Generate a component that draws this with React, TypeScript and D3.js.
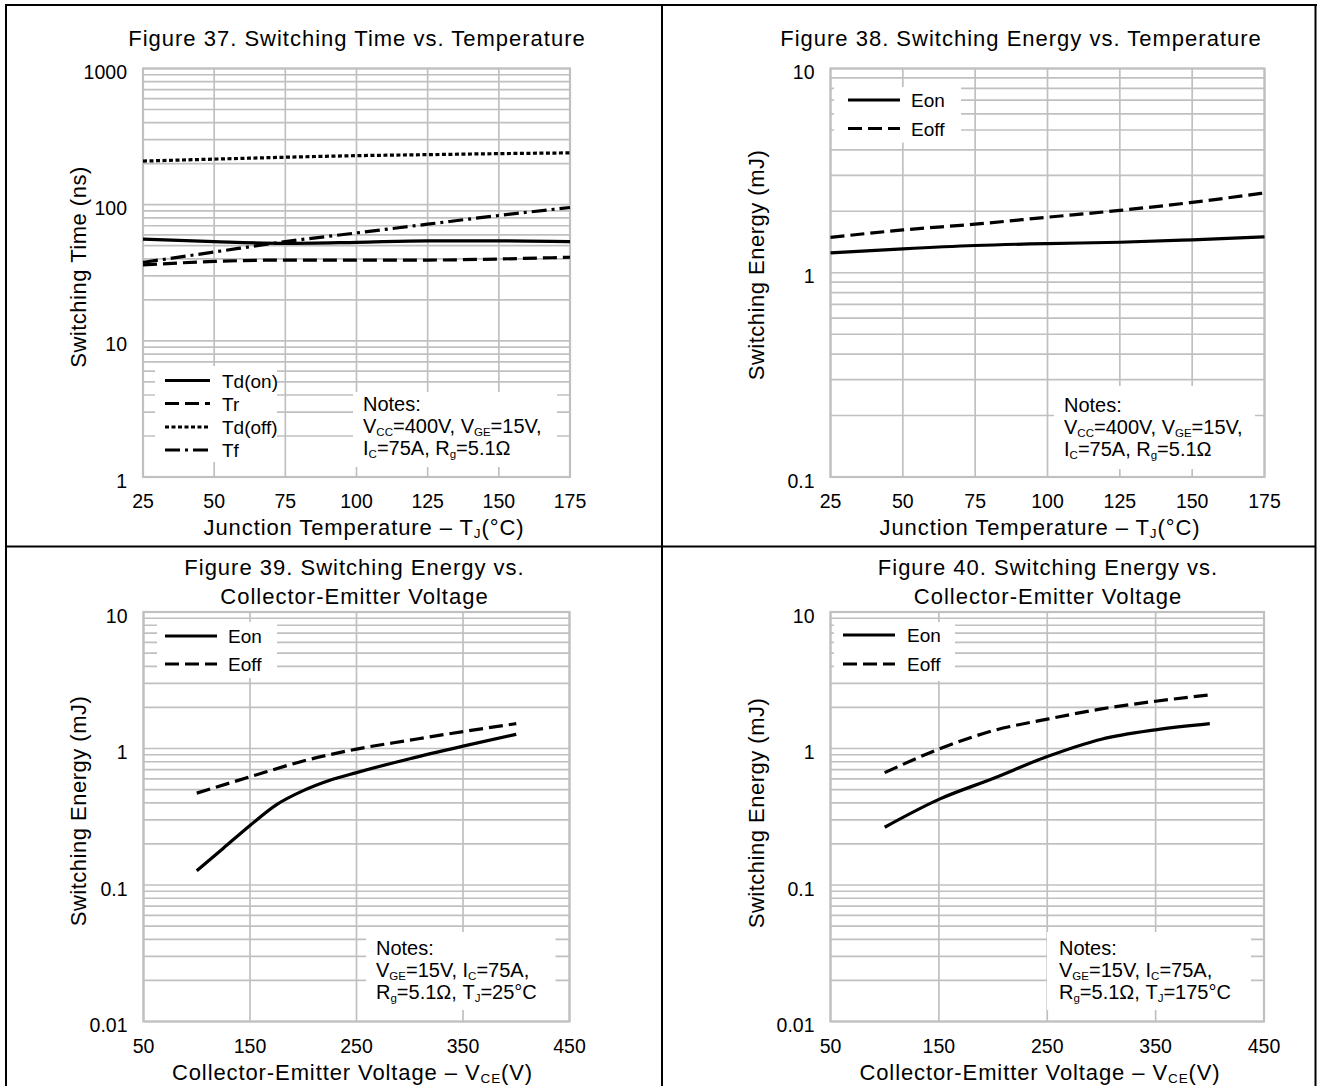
import React from 'react';
import * as d3 from 'd3';

// ---------- DATA ----------
const tempC = [25, 50, 75, 100, 125, 150, 175];
const fig37TdOn = [55.9, 53.5, 52.0, 52.9, 54.2, 54.2, 53.5];
const fig37Tr = [36.1, 38.3, 39.2, 39.2, 39.2, 39.9, 41.1];
const fig37TdOff = [209, 216, 223, 229, 233, 237, 240];
const fig37Tf = [37.7, 44.9, 53.5, 62.0, 71.9, 83.3, 95.3];

const fig38Eon = [1.25, 1.31, 1.36, 1.39, 1.41, 1.45, 1.5];
const fig38Eoff = [1.49, 1.62, 1.73, 1.87, 2.02, 2.21, 2.46];

const vceV = [100, 150, 200, 250, 300, 350, 400];
const vce39On = [100, 125, 150, 175, 200, 225, 250, 300, 350, 400];
const fig39Eon = [0.127, 0.186, 0.273, 0.388, 0.491, 0.585, 0.666, 0.842, 1.04, 1.27];
const fig39Eoff = [0.471, 0.62, 0.81, 0.99, 1.15, 1.33, 1.52];

const fig40Eon = [0.265, 0.424, 0.603, 0.873, 1.17, 1.37, 1.52];
const fig40Eoff = [0.665, 0.99, 1.35, 1.64, 1.95, 2.22, 2.47];

const tempTicks = [25, 50, 75, 100, 125, 150, 175];
const vceTicks = [50, 150, 250, 350, 450];
const timeTicks = [1, 10, 100, 1000];
const energyTicksT = [0.1, 1, 10];
const energyTicksV = [0.01, 0.1, 1, 10];

const legend37 = ['Td(on)', 'Tr', 'Td(off)', 'Tf'];
const legendE = ['Eon', 'Eoff'];

// ---------- STYLE ----------
const FONT = '"Liberation Sans", Arial, sans-serif';
const GRID = '#c0c0c0';
const DASH: Record<string, string | undefined> = {
  solid: undefined,
  dash: '14 6',
  dot: '4 2.5',
  dashdot: '15 5 3 5',
};

type Seg = { t: string; sub?: boolean };

function Rich({ x, y, segs, size, subSize, anchor = 'start', ls = 0, transform }: any) {
  return (
    <text x={x} y={y} fontSize={size} textAnchor={anchor} letterSpacing={ls} transform={transform} fill="#000">
      {segs.map((s: Seg, i: number) =>
        s.sub ? (
          <tspan key={i} fontSize={subSize} dy={3}>{s.t}</tspan>
        ) : (
          <tspan key={i} dy={i > 0 && segs[i - 1].sub ? -3 : 0}>{s.t}</tspan>
        )
      )}
    </text>
  );
}

interface SeriesCfg { xs: number[]; ys: number[]; dash: string; }
interface PanelCfg {
  plot: { l: number; r: number; t: number; b: number };
  xDomain: [number, number];
  xTicks: number[];
  yTicks: number[];
  series: SeriesCfg[];
  legend: { labels: string[]; dashes: string[]; box: [number, number, number, number]; x0: number; x1: number; tx: number; rows: number[] };
  notes: { box: [number, number, number, number]; x: number; ys: number[]; lines: Seg[][] };
  title: { lines: string[]; cx: number; ys: number[] };
  xTitle: { segs: Seg[]; cx: number };
  yTitle: { text: string; cx: number; cy: number };
}

function Panel({ cfg }: { cfg: PanelCfg }) {
  const { plot } = cfg;
  const x = d3.scaleLinear().domain(cfg.xDomain).range([plot.l, plot.r]);
  const yMin = cfg.yTicks[0];
  const yMax = cfg.yTicks[cfg.yTicks.length - 1];
  const y = d3.scaleLog().domain([yMin, yMax]).range([plot.b, plot.t]);
  const minors: number[] = [];
  cfg.yTicks.slice(0, -1).forEach((d) => {
    for (let k = 2; k <= 9; k++) minors.push(d * k);
  });
  const line = d3
    .line<[number, number]>()
    .x((d) => x(d[0]))
    .y((d) => y(d[1]))
    .curve(d3.curveMonotoneX);
  const lb = cfg.legend.box;
  const nb = cfg.notes.box;
  return (
    <g fontFamily={FONT}>
      {/* grid */}
      {minors.concat(cfg.yTicks).map((v, i) => (
        <line key={'h' + i} x1={plot.l} x2={plot.r} y1={y(v)} y2={y(v)} stroke={GRID} strokeWidth={1.7} />
      ))}
      {cfg.xTicks.map((v, i) => (
        <line key={'v' + i} x1={x(v)} x2={x(v)} y1={plot.t} y2={plot.b} stroke={GRID} strokeWidth={1.7} />
      ))}
      <rect x={plot.l} y={plot.t} width={plot.r - plot.l} height={plot.b - plot.t} fill="none" stroke={GRID} strokeWidth={2.2} />
      {/* legend + notes backgrounds */}
      <rect x={lb[0]} y={lb[1]} width={lb[2] - lb[0]} height={lb[3] - lb[1]} fill="#fff" />
      <rect x={nb[0]} y={nb[1]} width={nb[2] - nb[0]} height={nb[3] - nb[1]} fill="#fff" />
      {/* series */}
      {cfg.series.map((s, i) => (
        <path
          key={'s' + i}
          d={line(s.xs.map((xv, j) => [xv, s.ys[j]] as [number, number])) || ''}
          fill="none"
          stroke="#000"
          strokeWidth={3.2}
          strokeDasharray={DASH[s.dash]}
        />
      ))}
      {/* legend */}
      {cfg.legend.labels.map((lab, i) => (
        <g key={'l' + i}>
          <line x1={cfg.legend.x0} x2={cfg.legend.x1} y1={cfg.legend.rows[i]} y2={cfg.legend.rows[i]} stroke="#000" strokeWidth={3.2} strokeDasharray={DASH[cfg.legend.dashes[i]]} />
          <text x={cfg.legend.tx} y={cfg.legend.rows[i] + 7} fontSize={19} fill="#000">{lab}</text>
        </g>
      ))}
      {/* notes */}
      {cfg.notes.lines.map((segs, i) => (
        <Rich key={'n' + i} x={cfg.notes.x} y={cfg.notes.ys[i]} segs={segs} size={20} subSize={11.5} />
      ))}
      {/* y tick labels */}
      {cfg.yTicks.map((v, i) => (
        <text key={'yl' + i} x={plot.l - 16} y={y(v) + 10.5} fontSize={19.5} textAnchor="end" fill="#000">{String(v)}</text>
      ))}
      {/* x tick labels */}
      {cfg.xTicks.map((v, i) => (
        <text key={'xl' + i} x={x(v)} y={plot.b + 31} fontSize={19.5} textAnchor="middle" fill="#000">{String(v)}</text>
      ))}
      {/* titles */}
      {cfg.title.lines.map((t, i) => (
        <text key={'t' + i} x={cfg.title.cx} y={cfg.title.ys[i]} fontSize={22} textAnchor="middle" letterSpacing={1} fill="#000">{t}</text>
      ))}
      <Rich x={cfg.xTitle.cx} y={plot.b + 58} segs={cfg.xTitle.segs} size={22} subSize={13.5} anchor="middle" ls={0.9} />
      <text
        transform={`translate(${cfg.yTitle.cx},${cfg.yTitle.cy}) rotate(-90)`}
        fontSize={22}
        textAnchor="middle"
        dy="0.35em"
        letterSpacing={0.5}
        fill="#000"
      >
        {cfg.yTitle.text}
      </text>
    </g>
  );
}

const notesT: Seg[][] = [
  [{ t: 'Notes:' }],
  [{ t: 'V' }, { t: 'CC', sub: true }, { t: '=400V, V' }, { t: 'GE', sub: true }, { t: '=15V,' }],
  [{ t: 'I' }, { t: 'C', sub: true }, { t: '=75A, R' }, { t: 'g', sub: true }, { t: '=5.1Ω' }],
];
const notesV = (tj: string): Seg[][] => [
  [{ t: 'Notes:' }],
  [{ t: 'V' }, { t: 'GE', sub: true }, { t: '=15V, I' }, { t: 'C', sub: true }, { t: '=75A,' }],
  [{ t: 'R' }, { t: 'g', sub: true }, { t: '=5.1Ω, T' }, { t: 'J', sub: true }, { t: '=' + tj }],
];
const xTitleT: Seg[] = [{ t: 'Junction Temperature  – T' }, { t: 'J', sub: true }, { t: '(°C)' }];
const xTitleV: Seg[] = [{ t: 'Collector-Emitter Voltage  – V' }, { t: 'CE', sub: true }, { t: '(V)' }];

export default function App() {
  const p1: PanelCfg = {
    plot: { l: 143, r: 570, t: 68.5, b: 477 },
    xDomain: [25, 175],
    xTicks: tempTicks,
    yTicks: timeTicks,
    series: [
      { xs: tempC, ys: fig37TdOff, dash: 'dot' },
      { xs: tempC, ys: fig37Tf, dash: 'dashdot' },
      { xs: tempC, ys: fig37TdOn, dash: 'solid' },
      { xs: tempC, ys: fig37Tr, dash: 'dash' },
    ],
    legend: { labels: legend37, dashes: ['solid', 'dash', 'dot', 'dashdot'], box: [155, 366, 277, 462], x0: 165, x1: 210, tx: 222, rows: [380.5, 403.5, 427, 450] },
    notes: { box: [353, 392, 557, 467], x: 363, ys: [411, 433, 455], lines: notesT },
    title: { lines: ['Figure 37. Switching Time vs. Temperature'], cx: 357, ys: [46] },
    xTitle: { segs: xTitleT, cx: 364 },
    yTitle: { text: 'Switching Time  (ns)', cx: 78, cy: 267 },
  };
  const p2: PanelCfg = {
    plot: { l: 830.5, r: 1264.5, t: 68.5, b: 477 },
    xDomain: [25, 175],
    xTicks: tempTicks,
    yTicks: energyTicksT,
    series: [
      { xs: tempC, ys: fig38Eoff, dash: 'dash' },
      { xs: tempC, ys: fig38Eon, dash: 'solid' },
    ],
    legend: { labels: legendE, dashes: ['solid', 'dash'], box: [834, 87, 961, 142.5], x0: 848, x1: 900, tx: 911, rows: [100, 128.5] },
    notes: { box: [1054, 386, 1255, 469], x: 1064, ys: [412, 434, 456], lines: notesT },
    title: { lines: ['Figure 38. Switching Energy vs. Temperature'], cx: 1021, ys: [46] },
    xTitle: { segs: xTitleT, cx: 1040 },
    yTitle: { text: 'Switching Energy  (mJ)', cx: 756, cy: 265 },
  };
  const p3: PanelCfg = {
    plot: { l: 143.5, r: 569.5, t: 612, b: 1021.5 },
    xDomain: [50, 450],
    xTicks: vceTicks,
    yTicks: energyTicksV,
    series: [
      { xs: vceV, ys: fig39Eoff, dash: 'dash' },
      { xs: vce39On, ys: fig39Eon, dash: 'solid' },
    ],
    legend: { labels: legendE, dashes: ['solid', 'dash'], box: [157, 622, 277, 678], x0: 165, x1: 217, tx: 228, rows: [636, 664] },
    notes: { box: [366, 932, 555.5, 1010], x: 376, ys: [955, 977, 999], lines: notesV('25°C') },
    title: { lines: ['Figure 39. Switching Energy vs.', 'Collector-Emitter Voltage'], cx: 354.5, ys: [575, 604] },
    xTitle: { segs: xTitleV, cx: 352.5 },
    yTitle: { text: 'Switching Energy  (mJ)', cx: 78, cy: 811 },
  };
  const p4: PanelCfg = {
    plot: { l: 830.5, r: 1264, t: 612, b: 1021.5 },
    xDomain: [50, 450],
    xTicks: vceTicks,
    yTicks: energyTicksV,
    series: [
      { xs: vceV, ys: fig40Eoff, dash: 'dash' },
      { xs: vceV, ys: fig40Eon, dash: 'solid' },
    ],
    legend: { labels: legendE, dashes: ['solid', 'dash'], box: [834, 622, 955, 681], x0: 843, x1: 895, tx: 907, rows: [635, 664] },
    notes: { box: [1047, 932, 1251, 1010], x: 1059, ys: [955, 977, 999], lines: notesV('175°C') },
    title: { lines: ['Figure 40. Switching Energy vs.', 'Collector-Emitter Voltage'], cx: 1048, ys: [575, 604] },
    xTitle: { segs: xTitleV, cx: 1040 },
    yTitle: { text: 'Switching Energy  (mJ)', cx: 756, cy: 813 },
  };
  return (
    <svg
      width={1317}
      height={1086}
      style={{ position: 'absolute', left: 0, top: 0, background: '#fff' }}
      xmlns="http://www.w3.org/2000/svg"
    >
      <rect x={0} y={0} width={1317} height={1086} fill="#fff" />
      {[p1, p2, p3, p4].map((p, i) => (
        <Panel key={i} cfg={p} />
      ))}
      {/* frame */}
      <g stroke="#000" strokeWidth={2} fill="none">
        <line x1={6} x2={6} y1={4} y2={1086} />
        <line x1={5} x2={1317} y1={5} y2={5} />
        <line x1={1315.5} x2={1315.5} y1={4} y2={1086} />
        <line x1={662} x2={662} y1={5} y2={1086} />
        <line x1={6} x2={1316} y1={546.5} y2={546.5} />
      </g>
    </svg>
  );
}
